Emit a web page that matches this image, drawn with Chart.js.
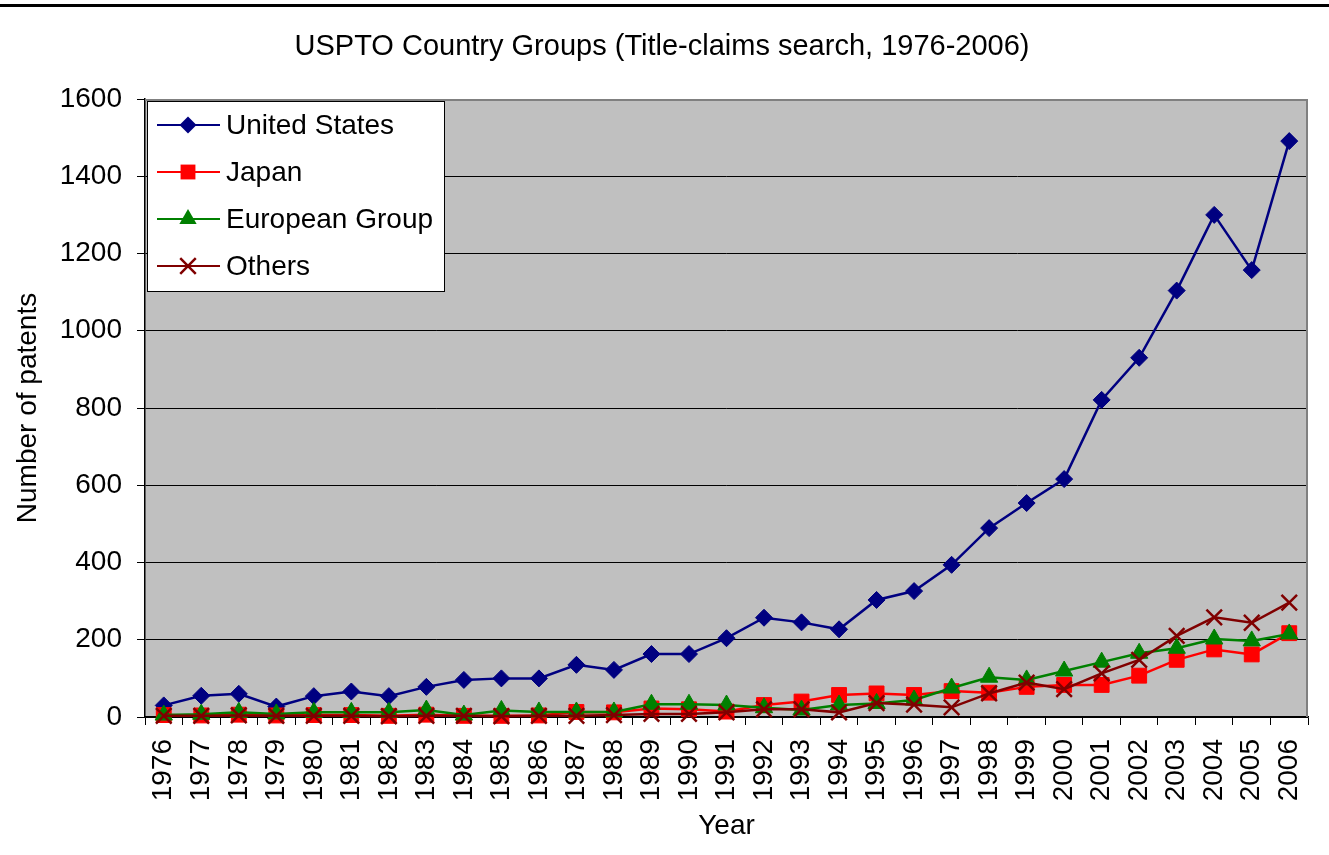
<!DOCTYPE html>
<html>
<head>
<meta charset="utf-8">
<script src="https://cdn.jsdelivr.net/npm/chart.js@4"></script>
<style>
  html, body { margin: 0; padding: 0; background: #ffffff; }
  #wrap { position: relative; width: 1329px; height: 855px; }
  canvas { display: block; }
</style>
</head>
<body>
<div id="wrap"><canvas id="c" width="1329" height="855"></canvas></div>
<script>
const years = ['1976','1977','1978','1979','1980','1981','1982','1983','1984','1985','1986','1987','1988','1989','1990','1991','1992','1993','1994','1995','1996','1997','1998','1999','2000','2001','2002','2003','2004','2005','2006'];
const unitedStates = [30,55,60,27,54,66,54,78,96,100,100,135,122,163,163,204,257,245,227,303,326,394,489,554,616,821,930,1104,1300,1157,1491];
const japan = [5,4,6,4,5,5,3,6,3,3,4,13,12,22,20,14,31,40,57,61,57,67,63,78,83,83,107,148,175,162,217];
const europeanGroup = [5,7,12,8,12,12,12,18,5,17,13,13,13,33,33,31,24,18,31,35,44,75,103,96,119,142,165,178,202,197,215];
const others = [3,3,4,3,3,3,2,3,3,2,3,3,5,8,8,12,20,20,12,36,32,25,61,89,72,113,148,210,258,244,296];
const seriesNames = ['United States','Japan','European Group','Others'];
const chartTitle = 'USPTO Country Groups (Title-claims search, 1976-2006)';
const yTicks = [0,200,400,600,800,1000,1200,1400,1600];

const FONT = '"Liberation Sans", Arial, sans-serif';

function drawMarker(ctx, style, x, y, r, color) {
  ctx.save();
  ctx.fillStyle = color; ctx.strokeStyle = color;
  ctx.beginPath();
  if (style === 'rectRot') {
    ctx.moveTo(x, y - r); ctx.lineTo(x + r, y); ctx.lineTo(x, y + r); ctx.lineTo(x - r, y); ctx.closePath(); ctx.fill();
  } else if (style === 'rect') {
    const s = Math.SQRT1_2 * r; ctx.rect(x - s, y - s, 2 * s, 2 * s); ctx.fill();
  } else if (style === 'triangle') {
    ctx.moveTo(x, y - r);
    ctx.lineTo(x + Math.sin(2*Math.PI/3) * r, y - Math.cos(2*Math.PI/3) * r);
    ctx.lineTo(x + Math.sin(4*Math.PI/3) * r, y - Math.cos(4*Math.PI/3) * r);
    ctx.closePath(); ctx.fill();
  } else if (style === 'crossRot') {
    const o = Math.SQRT1_2 * r;
    ctx.lineWidth = 2.5;
    ctx.moveTo(x - o, y - o); ctx.lineTo(x + o, y + o);
    ctx.moveTo(x - o, y + o); ctx.lineTo(x + o, y - o); ctx.stroke();
  }
  ctx.restore();
}

const decorPlugin = {
  id: 'decor',
  beforeDraw(chart) {
    const {ctx, chartArea: a} = chart;
    ctx.save();
    ctx.fillStyle = '#ffffff';
    ctx.fillRect(0, 0, chart.width, chart.height);
    ctx.fillStyle = '#000000';
    ctx.fillRect(0, 4, chart.width, 3);
    ctx.fillStyle = '#c0c0c0';
    ctx.fillRect(a.left, a.top, a.right - a.left, a.bottom - a.top);
    ctx.fillStyle = '#000000';
    ctx.font = '29px ' + FONT;
    ctx.textAlign = 'center';
    ctx.textBaseline = 'middle';
    ctx.fillText(chartTitle, 662, 47);
    ctx.restore();
  },
  afterDatasetsDraw(chart) {
    const {ctx, chartArea: a} = chart;
    ctx.save();
    ctx.strokeStyle = '#808080';
    ctx.lineWidth = 2;
    ctx.beginPath();
    ctx.moveTo(a.left, a.top + 1); ctx.lineTo(a.right - 1, a.top + 1); ctx.lineTo(a.right - 1, a.bottom);
    ctx.stroke();
    const lx = 147, ly = 101, lw = 297, lh = 190;
    ctx.fillStyle = '#ffffff';
    ctx.fillRect(lx, ly, lw, lh);
    ctx.strokeStyle = '#000000';
    ctx.lineWidth = 1;
    ctx.strokeRect(lx + 0.5, ly + 0.5, lw, lh);
    ctx.font = '28px ' + FONT;
    ctx.textAlign = 'left';
    ctx.textBaseline = 'middle';
    chart.data.datasets.forEach((ds, i) => {
      const y = 125 + i * 47;
      ctx.strokeStyle = ds.borderColor;
      ctx.lineWidth = 2;
      ctx.beginPath(); ctx.moveTo(157, y); ctx.lineTo(220, y); ctx.stroke();
      drawMarker(ctx, ds.pointStyle, 188, y, ds.pointRadius, ds.pointBackgroundColor);
      ctx.fillStyle = '#000000';
      ctx.fillText(ds.label, 226, y + 1);
    });
    ctx.restore();
  }
};

const colors = ['#000080', '#ff0000', '#008000', '#800000'];
const styles = ['rectRot', 'rect', 'triangle', 'crossRot'];
const radii = [8.5, 10.5, 10, 11];
const values = [unitedStates, japan, europeanGroup, others];
const orders = [3, 2, 1, 0];

const datasets = values.map((v, i) => ({
  label: seriesNames[i],
  data: v,
  borderColor: colors[i],
  backgroundColor: colors[i],
  pointBackgroundColor: colors[i],
  pointBorderColor: colors[i],
  pointStyle: styles[i],
  pointRadius: radii[i],
  pointHoverRadius: radii[i],
  pointBorderWidth: i === 3 ? 2.5 : 1,
  borderWidth: 2.5,
  tension: 0,
  order: orders[i],
  clip: false
}));

new Chart(document.getElementById('c'), {
  type: 'line',
  data: { labels: years, datasets },
  options: {
    responsive: false,
    animation: false,
    events: [],
    layout: { padding: { left: 0, right: 21, top: 99, bottom: 0 } },
    plugins: { legend: { display: false }, title: { display: false }, tooltip: { enabled: false } },
    scales: {
      x: {
        type: 'category',
        offset: true,
        afterFit(scale) { scale.height = 138; scale.paddingLeft = 0; scale.paddingRight = 0; },
        grid: { offset: true, drawOnChartArea: false, drawTicks: true, tickLength: 8, tickColor: '#000000', color: '#000000' },
        border: { display: true, color: '#000000', width: 1.5 },
        ticks: { color: '#000000', font: { family: FONT, size: 28 }, minRotation: 90, maxRotation: 90, padding: 14, autoSkip: false },
        title: { display: true, text: 'Year', color: '#000000', font: { family: FONT, size: 28 }, padding: { top: 0, bottom: 12 } }
      },
      y: {
        min: 0, max: 1600,
        afterFit(scale) { scale.width = 145; scale.paddingTop = 0; scale.paddingBottom = 0; },
        afterBuildTicks(scale) { scale.ticks = yTicks.map(v => ({ value: v })); },
        grid: { drawOnChartArea: true, color: '#000000', lineWidth: 1, drawTicks: true, tickLength: 8, tickColor: '#000000' },
        border: { display: true, color: '#000000', width: 1.5 },
        ticks: { color: '#000000', font: { family: FONT, size: 28 }, padding: 15, callback: (v) => String(v) },
        title: { display: true, text: 'Number of patents', color: '#000000', font: { family: FONT, size: 28 }, padding: { top: 11, bottom: 0 } }
      }
    }
  },
  plugins: [decorPlugin]
});
</script>
</body>
</html>
